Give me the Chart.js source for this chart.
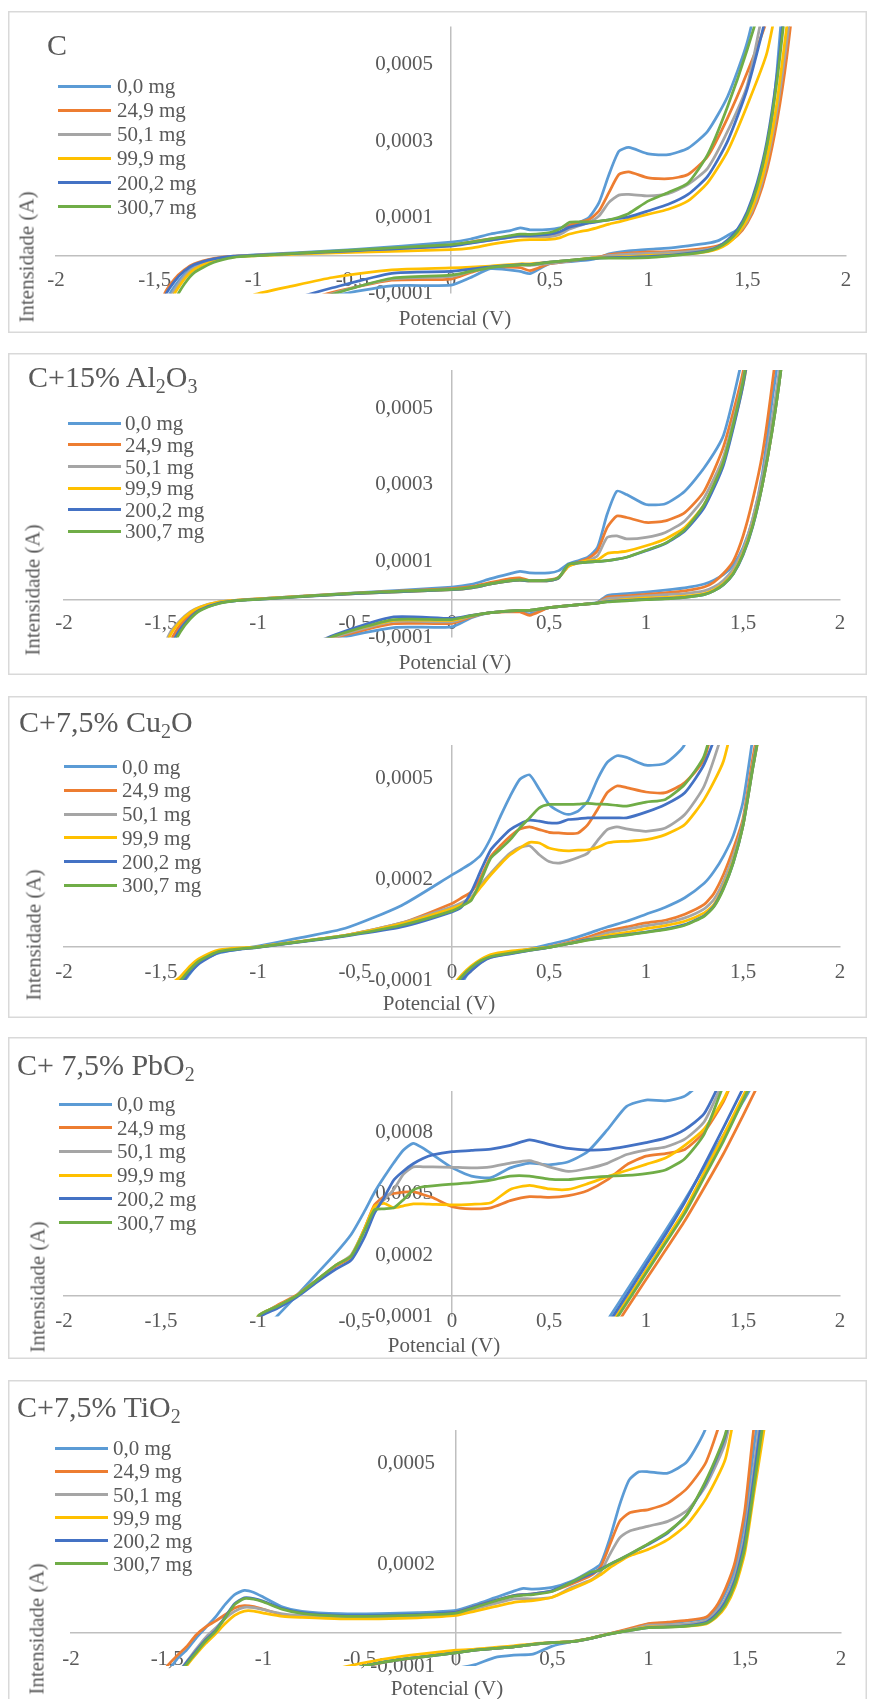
<!DOCTYPE html>
<html lang="pt">
<head>
<meta charset="utf-8">
<title>Voltametria cíclica</title>
<script src="https://cdn.jsdelivr.net/npm/chart.js@4.4.1/dist/chart.umd.min.js"></script>
<style>
  html, body { margin: 0; padding: 0; background: #fff; }
  body { position: relative; width: 871px; height: 1699px; overflow: hidden;
         font-family: "Liberation Serif", "Times New Roman", serif; color: #595959; }
  .panel { position: absolute; left: 8px; width: 859px; height: 322px;
           box-shadow: inset 0 0 0 1.5px #d9d9d9; }
  .panel canvas { position: absolute; left: 0; top: 0; }
  .txt { position: absolute; white-space: nowrap; line-height: 1; }
  .ttl { font-size: 30px; }
  .ttl sub { font-size: 20px; vertical-align: -6px; line-height: 0; }
  .ax { font-size: 21px; transform: translate(-50%, -50%); }
  .ax.rot { transform: translate(-50%, -50%) rotate(-90deg); }
  .key { position: absolute; width: 53px; height: 3px; }
  .lab { font-size: 21px; line-height: 24px; }
</style>
</head>
<body>
<script>
// series: electrode mass
const massLabels = ['0,0 mg', '24,9 mg', '50,1 mg', '99,9 mg', '200,2 mg', '300,7 mg'];
const lineColors = ['#5b9bd5', '#ed7d31', '#a5a5a5', '#ffc000', '#4472c4', '#70ad47'];
const xTicks = [-2, -1.5, -1, -0.5, 0, 0.5, 1, 1.5, 2];

// currents are in µA; forward (anodic) scan then return scan

// C
const cFwdV = [-1.55, -1.45, -1.4, -1.35, -1.3, -1.2, -1.1, -1.0, -0.5, 0, 0.1, 0.2, 0.3, 0.35, 0.4, 0.5, 0.55, 0.6, 0.65, 0.7, 0.75, 0.8, 0.85, 0.9, 1.0, 1.1, 1.2, 1.3, 1.4, 1.5, 1.6, 1.7];
const cFwdI = [
  [-260, -125, -82, -50, -30, -11, -3, 1, 15, 35, 43, 56, 65, 72, 67, 68, 72, 80, 87, 100, 139, 212, 273, 283, 266, 264, 281, 326, 416, 559, 800, 1100],
  [-230, -100, -62, -38, -22, -8, -2, 0, 12, 26, 35, 43, 49, 52, 52, 54, 58, 78, 87, 94, 117, 165, 212, 219, 203, 201, 212, 260, 360, 480, 620, 900],
  [-270, -135, -90, -55, -33, -12, -3, 0, 12, 26, 33, 40, 47, 49, 49, 49, 55, 69, 78, 87, 104, 139, 158, 160, 156, 162, 186, 229, 325, 446, 700, 1000],
  [-280, -145, -100, -62, -37, -13, -4, -1, 8, 15, 19, 29, 37, 40, 41, 42, 46, 56, 62, 67, 74, 82, 88, 95, 108, 121, 143, 191, 273, 394, 532, 800],
  [-240, -108, -68, -41, -24, -9, -2, 0, 12, 24, 32, 40, 48, 52, 52, 56, 62, 74, 80, 85, 89, 93, 97, 101, 117, 134, 160, 208, 299, 437, 640, 950],
  [-300, -170, -118, -75, -45, -18, -5, -1, 14, 28, 35, 43, 52, 56, 55, 60, 69, 87, 88, 88, 90, 93, 100, 110, 143, 165, 190, 265, 390, 540, 720, 1000]
];
const cRevV = [1.8, 1.75, 1.7, 1.65, 1.6, 1.55, 1.5, 1.45, 1.4, 1.35, 1.3, 1.2, 1.1, 1.0, 0.9, 0.8, 0.75, 0.7, 0.5, 0.4, 0.35, 0.2, 0.1, 0, -0.3, -0.6, -0.8, -1.0, -1.2];
const cRevI = [
  [1400, 1100, 800, 480, 264, 160, 100, 68, 52, 38, 32, 25, 19, 16, 12, 4, -6, -12, -22, -48, -42, -35, -58, -78, -80, -108, -150, -200, -260],
  [1100, 760, 520, 350, 225, 140, 85, 52, 35, 25, 20, 14, 10, 9, 6, 2, -4, -8, -22, -40, -32, -30, -45, -62, -65, -97, -130, -170, -220],
  [1100, 780, 560, 380, 245, 150, 90, 55, 33, 22, 16, 10, 7, 5, 3, 0, -5, -8, -21, -26, -25, -30, -42, -55, -62, -100, -135, -175, -225],
  [1100, 800, 600, 400, 255, 160, 95, 55, 30, 17, 10, 4, 1, 0, -3, -5, -6, -8, -18, -22, -22, -28, -31, -33, -38, -58, -80, -104, -150],
  [1200, 900, 700, 470, 300, 190, 115, 68, 40, 22, 13, 5, 0, -3, -5, -6, -7, -9, -18, -24, -24, -30, -36, -42, -47, -85, -115, -150, -200],
  [1200, 900, 680, 455, 290, 180, 108, 62, 36, 20, 11, 3, -2, -6, -7, -7, -7, -8, -18, -25, -25, -32, -42, -52, -60, -102, -140, -180, -230]
];
const cTicksY = [-0.0001, 0.0001, 0.0003, 0.0005];

// C + 15% Al2O3
const alFwdV = [-1.55, -1.45, -1.4, -1.35, -1.3, -1.2, -1.1, -1.0, -0.5, 0, 0.1, 0.2, 0.3, 0.35, 0.4, 0.5, 0.55, 0.6, 0.65, 0.7, 0.75, 0.8, 0.85, 0.9, 1.0, 1.1, 1.2, 1.3, 1.4, 1.5, 1.6, 1.7];
const alFwdI = [
  [-235, -115, -72, -44, -26, -9, -3, 1, 17, 32, 39, 54, 67, 73, 69, 69, 75, 93, 101, 110, 136, 223, 283, 274, 248, 250, 283, 344, 430, 640, 900, 1200],
  [-220, -108, -66, -40, -24, -8, -2, 1, 16, 28, 33, 44, 54, 56, 49, 51, 58, 88, 97, 106, 127, 188, 218, 214, 201, 205, 227, 283, 400, 595, 900, 1200],
  [-190, -85, -55, -33, -20, -7, -2, 1, 15, 25, 30, 40, 48, 50, 48, 49, 56, 86, 95, 101, 114, 162, 166, 158, 162, 175, 205, 266, 374, 575, 900, 1200],
  [-200, -92, -58, -35, -21, -7, -2, 1, 15, 25, 30, 40, 48, 50, 48, 49, 56, 86, 95, 101, 103, 120, 123, 126, 140, 158, 188, 248, 361, 560, 860, 1200],
  [-250, -125, -78, -48, -28, -10, -3, 0, 15, 25, 30, 40, 48, 50, 48, 49, 56, 91, 95, 97, 99, 101, 105, 110, 127, 146, 179, 240, 352, 560, 880, 1200],
  [-265, -135, -85, -52, -30, -11, -3, 0, 16, 26, 31, 41, 49, 51, 49, 50, 57, 91, 95, 97, 99, 101, 105, 110, 128, 147, 182, 248, 361, 570, 880, 1200]
];
const alRevV = [1.8, 1.75, 1.7, 1.65, 1.6, 1.55, 1.5, 1.45, 1.4, 1.35, 1.3, 1.2, 1.1, 1.0, 0.9, 0.8, 0.75, 0.7, 0.5, 0.4, 0.35, 0.2, 0.1, 0, -0.3, -0.6, -0.8, -1.0, -1.2];
const alRevI = [
  [1400, 1000, 700, 520, 330, 210, 135, 90, 65, 50, 40, 30, 24, 19, 15, 10, -8, -12, -22, -38, -32, -35, -48, -72, -74, -105, -150, -200, -260],
  [1500, 1100, 780, 560, 380, 260, 165, 100, 68, 45, 32, 22, 17, 13, 9, 6, -9, -12, -22, -42, -33, -35, -46, -63, -64, -100, -140, -190, -240],
  [1300, 900, 650, 470, 320, 210, 130, 80, 50, 32, 22, 15, 12, 9, 5, 2, -9, -12, -22, -30, -29, -35, -44, -59, -58, -98, -140, -185, -235],
  [1250, 880, 620, 440, 300, 195, 120, 70, 42, 25, 15, 8, 5, 4, 0, -5, -10, -12, -22, -29, -29, -35, -43, -55, -55, -94, -135, -180, -230],
  [1250, 880, 620, 440, 300, 190, 115, 66, 38, 22, 12, 5, 2, 0, -3, -6, -10, -12, -22, -29, -29, -35, -42, -50, -46, -92, -135, -180, -230],
  [1250, 880, 620, 440, 300, 192, 117, 67, 39, 22, 12, 5, 1, -1, -4, -7, -10, -12, -22, -29, -29, -35, -43, -53, -53, -95, -138, -182, -232]
];
const alTicksY = [-0.0001, 0.0001, 0.0003, 0.0005];

// C + 7,5% Cu2O
const cuFwdV = [-1.55, -1.45, -1.4, -1.35, -1.3, -1.2, -1.0, -0.8, -0.55, -0.26, 0, 0.05, 0.1, 0.15, 0.2, 0.25, 0.3, 0.35, 0.4, 0.45, 0.5, 0.55, 0.6, 0.65, 0.7, 0.75, 0.8, 0.85, 0.9, 1.0, 1.1, 1.2, 1.3, 1.4, 1.5];
const cuFwdI = [
  [-260, -150, -118, -80, -45, -19, 1, 24, 54, 122, 213, 230, 248, 273, 323, 388, 448, 498, 511, 468, 423, 403, 393, 403, 433, 498, 548, 568, 563, 540, 546, 603, 900, 1200, 1500],
  [-230, -125, -98, -65, -40, -14, -2, 13, 33, 70, 128, 145, 163, 208, 268, 300, 328, 350, 356, 348, 340, 338, 336, 338, 363, 408, 458, 478, 473, 460, 458, 488, 558, 800, 1100],
  [-240, -130, -102, -68, -42, -15, -2, 13, 33, 70, 118, 130, 148, 185, 218, 250, 278, 295, 300, 273, 253, 248, 255, 265, 278, 315, 348, 356, 350, 343, 353, 393, 478, 650, 900],
  [-250, -115, -90, -58, -35, -10, -1, 14, 33, 68, 113, 125, 143, 178, 213, 245, 273, 293, 310, 308, 293, 287, 285, 287, 288, 295, 308, 312, 313, 318, 333, 363, 438, 553, 800],
  [-260, -140, -112, -78, -50, -18, -3, 12, 31, 58, 103, 118, 163, 228, 288, 320, 348, 365, 376, 373, 368, 368, 378, 380, 383, 383, 383, 383, 383, 400, 423, 458, 543, 700, 1000],
  [-240, -130, -102, -68, -42, -15, -2, 13, 32, 63, 106, 120, 138, 198, 263, 290, 318, 353, 383, 413, 423, 423, 423, 424, 426, 424, 423, 420, 418, 430, 438, 483, 568, 800, 1100]
];
const cuRevV = [1.8, 1.7, 1.6, 1.55, 1.5, 1.45, 1.4, 1.35, 1.3, 1.2, 1.1, 1.0, 0.9, 0.8, 0.7, 0.6, 0.5, 0.4, 0.3, 0.2, 0.15, 0.1, 0.05, 0, -0.1];
const cuRevI = [
  [1500, 1150, 820, 620, 430, 330, 270, 223, 188, 145, 117, 96, 75, 58, 38, 20, 6, -8, -18, -30, -42, -65, -110, -160, -250],
  [1500, 1050, 720, 560, 380, 290, 215, 158, 125, 96, 78, 70, 58, 47, 28, 12, -2, -10, -20, -30, -45, -70, -95, -140, -230],
  [1450, 1000, 700, 540, 370, 270, 195, 140, 112, 85, 70, 62, 51, 40, 22, 10, -3, -12, -21, -32, -47, -72, -98, -145, -240],
  [1400, 980, 680, 530, 360, 255, 180, 125, 100, 75, 62, 53, 42, 33, 20, 8, -2, -8, -14, -24, -38, -58, -85, -120, -200],
  [1400, 1000, 690, 530, 360, 250, 175, 120, 92, 65, 52, 43, 35, 28, 20, 8, -3, -12, -22, -33, -48, -72, -100, -150, -250],
  [1400, 1000, 690, 530, 360, 250, 172, 118, 90, 63, 50, 42, 34, 27, 19, 8, -3, -11, -20, -30, -42, -62, -90, -130, -220]
];
const cuTicksY = [-0.0001, 0.0002, 0.0005];

// C + 7,5% PbO2
const pbFwdV = [-1.1, -1.0, -0.9, -0.8, -0.7, -0.6, -0.52, -0.45, -0.4, -0.35, -0.3, -0.25, -0.2, -0.15, -0.1, 0, 0.1, 0.2, 0.3, 0.4, 0.5, 0.6, 0.7, 0.8, 0.9, 1.0, 1.1, 1.2, 1.3, 1.4, 1.5];
const pbFwdI = [
  [-280, -190, -96, 3, 105, 208, 300, 415, 505, 580, 650, 712, 745, 722, 690, 626, 585, 577, 625, 648, 640, 655, 705, 810, 925, 956, 952, 975, 1060, 1250, 1400],
  [-380, -110, -45, 5, 75, 145, 190, 330, 444, 485, 500, 507, 509, 495, 480, 436, 425, 430, 465, 485, 481, 490, 515, 566, 640, 682, 695, 715, 800, 950, 1150],
  [-400, -100, -50, 2, 75, 150, 200, 330, 430, 470, 520, 595, 630, 630, 630, 628, 625, 630, 648, 660, 630, 608, 622, 647, 690, 712, 727, 765, 850, 1050, 1250],
  [-400, -100, -50, 2, 75, 150, 195, 330, 436, 452, 430, 440, 449, 449, 447, 444, 447, 455, 520, 540, 522, 520, 548, 582, 612, 642, 673, 735, 815, 960, 1150],
  [-400, -110, -60, -5, 65, 130, 175, 290, 403, 480, 566, 610, 645, 671, 688, 704, 710, 717, 735, 762, 740, 720, 712, 715, 730, 748, 770, 812, 890, 1080, 1300],
  [-400, -100, -50, 2, 75, 150, 195, 320, 420, 425, 430, 470, 517, 533, 537, 546, 553, 565, 585, 585, 570, 568, 578, 584, 588, 597, 615, 670, 790, 1030, 1250]
];
const pbRevV = [1.8, 1.6, 1.5, 1.4, 1.3, 1.2, 1.1, 1.0, 0.9, 0.8, 0.7];
const pbRevI = [
  [1400, 1110, 948, 786, 627, 469, 318, 172, 26, -120, -267],
  [1400, 1070, 880, 695, 528, 367, 223, 80, -64, -208, -351],
  [1450, 1155, 964, 767, 590, 412, 265, 119, -27, -173, -319],
  [1450, 1160, 975, 785, 602, 421, 272, 126, -20, -166, -311],
  [1500, 1200, 1013, 823, 637, 457, 299, 151, 3, -144, -292],
  [1450, 1150, 954, 757, 579, 403, 257, 111, -35, -180, -326]
];
const pbTicksY = [-0.0001, 0.0002, 0.0005, 0.0008];

// C + 7,5% TiO2
const tiFwdV = [-1.6, -1.5, -1.45, -1.4, -1.35, -1.3, -1.25, -1.2, -1.15, -1.1, -1.05, -1.0, -0.9, -0.8, -0.6, -0.4, -0.2, 0, 0.1, 0.2, 0.3, 0.35, 0.4, 0.5, 0.6, 0.7, 0.75, 0.8, 0.85, 0.9, 0.95, 1.0, 1.1, 1.2, 1.3, 1.4, 1.5];
const tiFwdI = [
  [-200, -120, -80, -53, -17, 14, 45, 82, 112, 124, 118, 104, 75, 62, 55, 55, 58, 65, 82, 102, 122, 130, 128, 133, 151, 182, 202, 280, 378, 452, 476, 476, 472, 506, 610, 900, 1200],
  [-180, -100, -70, -43, -8, 16, 33, 52, 72, 79, 76, 68, 52, 47, 45, 46, 50, 60, 77, 94, 109, 112, 114, 122, 143, 168, 192, 261, 329, 354, 360, 364, 383, 427, 506, 680, 1000],
  [-250, -170, -125, -88, -50, -15, 12, 40, 62, 74, 73, 67, 55, 50, 45, 45, 48, 55, 70, 85, 99, 100, 99, 104, 133, 155, 178, 232, 280, 300, 308, 315, 329, 361, 437, 565, 850],
  [-260, -190, -140, -100, -65, -33, -5, 25, 50, 63, 63, 57, 47, 44, 40, 40, 43, 50, 63, 76, 89, 92, 94, 104, 128, 153, 170, 192, 210, 226, 236, 246, 275, 320, 398, 515, 800],
  [-250, -165, -125, -90, -55, -22, 5, 45, 85, 102, 100, 92, 70, 58, 50, 50, 53, 60, 77, 94, 109, 112, 114, 124, 148, 173, 187, 202, 216, 231, 246, 261, 295, 349, 447, 584, 850],
  [-255, -170, -130, -95, -60, -26, 2, 42, 82, 100, 98, 90, 68, 56, 48, 48, 51, 57, 74, 92, 107, 110, 112, 121, 148, 178, 184, 202, 216, 231, 247, 263, 298, 349, 452, 589, 860]
];
const tiRevV = [1.8, 1.7, 1.6, 1.55, 1.5, 1.45, 1.4, 1.35, 1.3, 1.2, 1.1, 1.0, 0.9, 0.8, 0.7, 0.6, 0.5, 0.4, 0.3, 0.2, 0.1, 0, -0.3, -0.5, -0.7, -1.0];
const tiRevI = [
  [1500, 1100, 760, 560, 330, 190, 118, 68, 42, 33, 28, 24, 8, -4, -18, -28, -41, -65, -68, -75, -96, -106, -120, -150, -190, -250],
  [1500, 1100, 800, 620, 360, 210, 130, 75, 45, 35, 30, 26, 11, -4, -18, -28, -31, -36, -43, -48, -53, -60, -82, -105, -140, -200],
  [1400, 1000, 720, 500, 290, 170, 100, 60, 35, 25, 22, 21, 7, -5, -18, -28, -31, -36, -43, -48, -53, -60, -82, -103, -140, -200],
  [1300, 1000, 600, 420, 235, 135, 76, 43, 25, 18, 16, 16, 6, -4, -17, -27, -30, -34, -40, -45, -50, -53, -73, -93, -120, -180],
  [1400, 1000, 680, 470, 270, 155, 90, 52, 30, 20, 16, 14, 5, -5, -18, -28, -31, -36, -43, -48, -53, -61, -82, -103, -140, -200],
  [1400, 1000, 640, 440, 250, 145, 82, 47, 27, 18, 15, 14, 5, -5, -18, -28, -31, -36, -43, -48, -53, -61, -82, -103, -140, -200]
];
const tiTicksY = [-0.0001, 0.0002, 0.0005];

const textGray = '#595959';
const axisGray = '#bfbfbf';

// page layout of the five boxes (px)
const panels = [
  { top: 11, pad: { left: 48, top: 14, right: 21, bottom: 39.5 }, yMax: 0.0006, yTicks: cTicksY, yLabelAt: -0.091, xPad: 13,
    title: { x: 47, y: 30, html: 'C' }, key: { lineX: 58, textX: 117, y0: 86, dy: 24.15 },
    xTitle: [455, 318], yTitle: [27, 257], fwdV: cFwdV, fwdI: cFwdI, revV: cRevV, revI: cRevI },
  { top: 353, pad: { left: 56, top: 17, right: 27, bottom: 37.5 }, yMax: 0.0006, yTicks: alTicksY, yLabelAt: -0.098, xPad: 12,
    title: { x: 28, y: 362, html: 'C+15% Al<sub>2</sub>O<sub>3</sub>' }, key: { lineX: 68, textX: 125, y0: 423.3, dy: 21.6 },
    xTitle: [455, 662], yTitle: [33, 590], fwdV: alFwdV, fwdI: alFwdI, revV: alRevV, revI: alRevI },
  { top: 696, pad: { left: 56, top: 49, right: 27, bottom: 38 }, yMax: 0.0006, yTicks: cuTicksY, yLabelAt: -0.098, xPad: 13,
    title: { x: 19, y: 707, html: 'C+7,5% Cu<sub>2</sub>O' }, key: { lineX: 64, textX: 122, y0: 766.7, dy: 23.7 },
    xTitle: [439, 1003], yTitle: [34, 935], fwdV: cuFwdV, fwdI: cuFwdI, revV: cuRevV, revI: cuRevI },
  { top: 1037, pad: { left: 56, top: 54, right: 27, bottom: 42.5 }, yMax: 0.001, yTicks: pbTicksY, yLabelAt: -0.098, xPad: 13,
    title: { x: 17, y: 1050, html: 'C+ 7,5% PbO<sub>2</sub>' }, key: { lineX: 59, textX: 117, y0: 1104, dy: 23.7 },
    xTitle: [444, 1345], yTitle: [38, 1287], fwdV: pbFwdV, fwdI: pbFwdI, revV: pbRevV, revI: pbRevI },
  { top: 1380, pad: { left: 63, top: 50, right: 26, bottom: 36 }, yMax: 0.0006, yTicks: tiTicksY, yLabelAt: -0.109, xPad: 15,
    title: { x: 17, y: 1392, html: 'C+7,5% TiO<sub>2</sub>' }, key: { lineX: 55, textX: 113, y0: 1448.3, dy: 23.1 },
    xTitle: [447, 1688], yTitle: [37, 1629], fwdV: tiFwdV, fwdI: tiFwdI, revV: tiRevV, revI: tiRevI }
];

const comma = v => String(v).replace('.', ',');

// one closed voltammogram: forward branch followed by the return branch, µA -> A
function loop(fwdV, fwdI, revV, revI) {
  const pts = fwdV.map((v, k) => ({ x: v, y: fwdI[k] * 1e-6 }));
  return pts.concat(revV.map((v, k) => ({ x: v, y: revI[k] * 1e-6 })));
}

function addText(cls, x, y, html) {
  const d = document.createElement('div');
  d.className = 'txt ' + cls;
  d.style.left = x + 'px';
  d.style.top = y + 'px';
  d.innerHTML = html;
  document.body.appendChild(d);
  return d;
}

Chart.defaults.font.family = '"Liberation Serif", "Times New Roman", serif';
Chart.defaults.font.size = 21;
Chart.defaults.color = textGray;

panels.forEach(p => {
  const box = document.createElement('div');
  box.className = 'panel';
  box.style.top = p.top + 'px';
  const cv = document.createElement('canvas');
  cv.width = 859;
  cv.height = 322;
  box.appendChild(cv);
  document.body.appendChild(box);

  new Chart(cv, {
    type: 'scatter',
    data: {
      datasets: massLabels.map((label, i) => ({
        label,
        data: loop(p.fwdV, p.fwdI[i], p.revV, p.revI[i]),
        showLine: true,
        borderColor: lineColors[i],
        backgroundColor: lineColors[i],
        borderWidth: 2.75,
        pointRadius: 0,
        tension: 0.2,
        order: massLabels.length - 1 - i
      }))
    },
    options: {
      responsive: false,
      animation: false,
      events: [],
      layout: { padding: p.pad },
      plugins: { legend: { display: false }, tooltip: { enabled: false } },
      scales: {
        x: {
          type: 'linear', min: -2, max: 2,
          position: { y: 0 },
          border: { color: axisGray, width: 1.5 },
          grid: {
            drawTicks: false, lineWidth: 1.5,
            color: c => (c.tick && c.tick.value === 0 ? axisGray : 'rgba(0,0,0,0)')
          },
          ticks: { padding: p.xPad, maxRotation: 0, autoSkip: false, callback: comma },
          afterBuildTicks: s => { s.ticks = xTicks.map(value => ({ value })); }
        },
        y: {
          type: 'linear', min: -0.0001, max: p.yMax,
          position: { x: p.yLabelAt },
          border: { display: false },
          grid: { display: false, drawTicks: false },
          ticks: { callback: comma },
          afterBuildTicks: s => { s.ticks = p.yTicks.map(value => ({ value })); }
        }
      }
    }
  });

  addText('ttl', p.title.x, p.title.y, p.title.html);
  addText('ax', p.xTitle[0], p.xTitle[1], 'Potencial (V)');
  addText('ax rot', p.yTitle[0], p.yTitle[1], 'Intensidade (A)');

  // legend: line sample and mass label per series
  massLabels.forEach((label, i) => {
    const y = p.key.y0 + i * p.key.dy;
    const line = document.createElement('div');
    line.className = 'key';
    line.style.left = p.key.lineX + 'px';
    line.style.top = Math.round(y - 1.5) + 'px';
    line.style.background = lineColors[i];
    document.body.appendChild(line);
    addText('lab', p.key.textX, y - 12, label);
  });
});
</script>
</body>
</html>
